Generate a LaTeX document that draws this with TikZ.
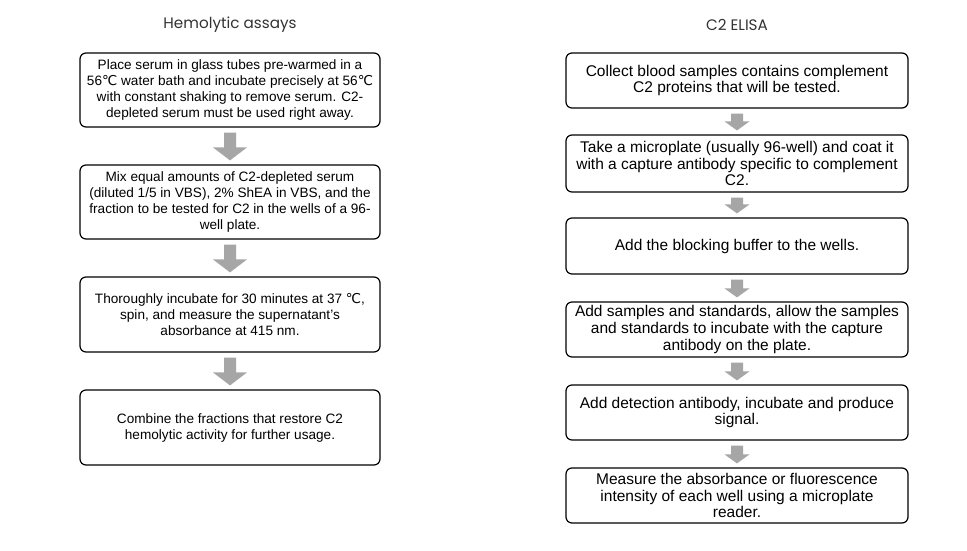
\documentclass[tikz,border=0pt]{standalone}
\usepackage{fontspec}
\setmainfont{Liberation Sans}
\newfontfamily\titlefont{Poppins}
\newfontfamily\symfont{DejaVu Sans}
\newcommand{\degC}{{\symfont\char"2103}}
\usetikzlibrary{calc}
\definecolor{agray}{HTML}{A6A6A6}
\definecolor{tgray}{HTML}{333333}
\newcommand\garrow[5]{%
  \fill[agray] let \p1=(#1.south), \p2=(#2.north) in
    (\x1-#3pt,\y1-5pt) -- (\x1+#3pt,\y1-5pt) -- (\x1+#3pt,\y2+4pt+#5pt)
    -- (\x1+#4pt,\y2+4pt+#5pt) -- (\x1,\y2+4pt) -- (\x1-#4pt,\y2+4pt+#5pt)
    -- (\x1-#3pt,\y2+4pt+#5pt) -- cycle;}
\begin{document}
\begin{tikzpicture}[x=1pt,y=-1pt,
  box/.style={draw=black, line width=1.2pt, rounded corners=6pt, align=center, inner sep=0pt},
  lbox/.style={box, minimum width=300pt, font=\fontsize{13.6}{16}\selectfont},
  rbox/.style={box, minimum width=342pt, font=\fontsize{15.5}{16.6}\selectfont},
  ttl/.style={font=\titlefont\fontsize{15.2}{16}\selectfont, text=tgray}]
\useasboundingbox (0,0) rectangle (967,551);
\fill[white] (0,0) rectangle (967,551);
\node[ttl] (t1) at (230,25) {Hemolytic assays};
\node[ttl] (t2) at (737,25) {C2 ELISA};

\node[lbox, minimum height=74pt] (l1) at (230,90) {Place serum in glass tubes pre-warmed in a\\56\degC{} water bath and incubate precisely at 56\degC\\with constant shaking to remove serum. C2-\\depleted serum must be used right away.};
\node[lbox, minimum height=74pt] (l2) at (230,202) {Mix equal amounts of C2-depleted serum\\(diluted 1/5 in VBS), 2\% ShEA in VBS, and the\\fraction to be tested for C2 in the wells of a 96-\\well plate.};
\node[lbox, minimum height=75pt] (l3) at (230,314.5) {Thoroughly incubate for 30 minutes at 37 \degC,\\spin, and measure the supernatant's\\absorbance at 415 nm.};
\node[lbox, minimum height=75pt] (l4) at (230,427.5) {Combine the fractions that restore C2\\hemolytic activity for further usage.};

\node[rbox, minimum height=55pt] (r1) at (737,80.5) {Collect blood samples contains complement\\C2 proteins that will be tested.};
\node[rbox, minimum height=57pt] (r2) at (737,163.5) {Take a microplate (usually 96-well) and coat it\\with a capture antibody specific to complement\\C2.};
\node[rbox, minimum height=56pt] (r3) at (737,246) {Add the blocking buffer to the wells.};
\node[rbox, minimum height=55pt] (r4) at (737,329.5) {Add samples and standards, allow the samples\\and standards to incubate with the capture\\antibody on the plate.};
\node[rbox, minimum height=55pt] (r5) at (737,412.5) {Add detection antibody, incubate and produce\\signal.};
\node[rbox, minimum height=55pt] (r6) at (737,495.5) {Measure the absorbance or fluorescence\\intensity of each well using a microplate\\reader.};

\garrow{l1}{l2}{6}{17}{13}
\garrow{l2}{l3}{6}{17}{13}
\garrow{l3}{l4}{6}{17}{13}
\garrow{r1}{r2}{6}{12.5}{9}
\garrow{r2}{r3}{6}{12.5}{9}
\garrow{r3}{r4}{6}{12.5}{9}
\garrow{r4}{r5}{6}{12.5}{9}
\garrow{r5}{r6}{6}{12.5}{9}
\end{tikzpicture}
\end{document}
